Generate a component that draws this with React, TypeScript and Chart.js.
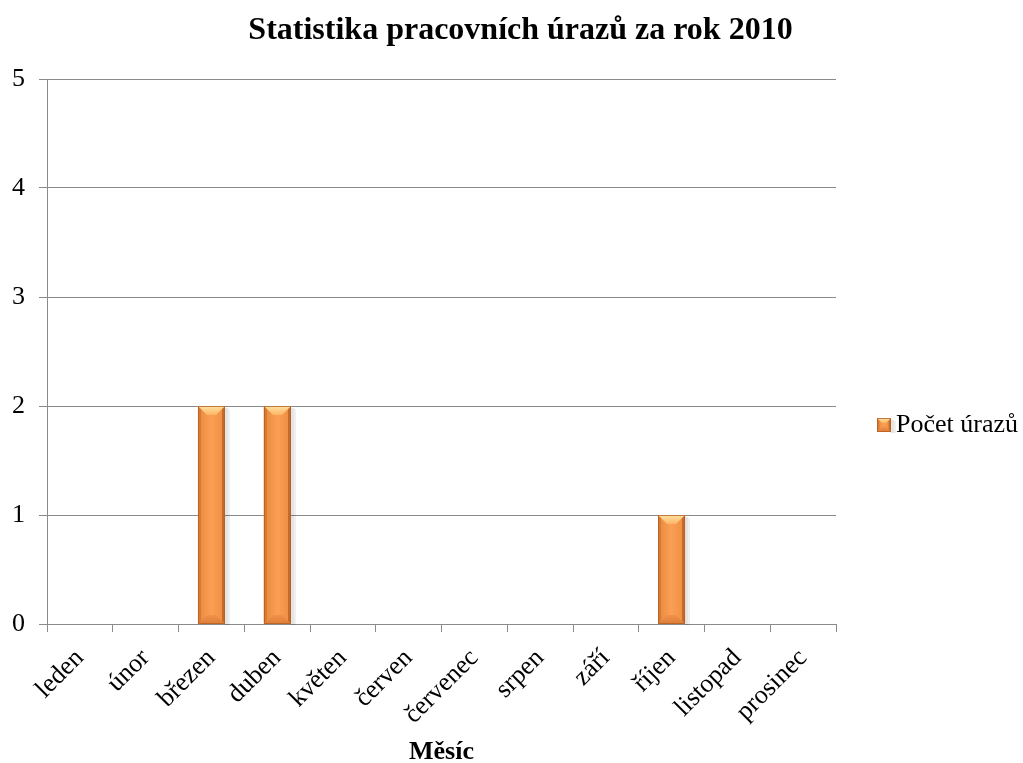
import React, { useEffect, useRef } from "react";
import { Chart, registerables } from "chart.js";

Chart.register(...registerables);

// Monthly accident counts for 2010
const months = [
  "leden", "únor", "březen", "duben", "květen", "červen",
  "červenec", "srpen", "září", "říjen", "listopad", "prosinec",
];
const injuries = [0, 0, 2, 2, 0, 0, 0, 0, 0, 1, 0, 0];
const yMin = 0;
const yMax = 5;
const yStep = 1;

const chartTitle = "Statistika pracovních úrazů za rok 2010";
const seriesLabel = "Počet úrazů";
const xAxisTitle = "Měsíc";

const serif = '"Liberation Serif", "Times New Roman", serif';
const gridColor = "#8a8a8a";

// Bevelled orange column (Excel-like look)
function drawBevelBar(ctx: CanvasRenderingContext2D, l: number, t: number, w: number, h: number) {
  const r = l + w;
  const b = t + h;
  const side = Math.max(1, Math.min(3, w / 6));
  const cap = Math.max(1, Math.min(9, w / 2 - 2, h / 2));
  const poly = (pts: number[][], fill: string | CanvasGradient) => {
    ctx.beginPath();
    ctx.moveTo(pts[0][0], pts[0][1]);
    for (let i = 1; i < pts.length; i++) ctx.lineTo(pts[i][0], pts[i][1]);
    ctx.closePath();
    ctx.fillStyle = fill;
    ctx.fill();
  };

  // soft shadow on the right
  ctx.fillStyle = "rgba(0,0,0,0.10)";
  ctx.fillRect(r, t + 2, 3, h - 1);
  ctx.fillStyle = "rgba(0,0,0,0.06)";
  ctx.fillRect(r + 3, t + 3, 2, h - 2);

  // body
  const g = ctx.createLinearGradient(l, 0, r, 0);
  g.addColorStop(0, "#E8893C");
  g.addColorStop(0.5, "#FB9F55");
  g.addColorStop(1, "#EC8C40");
  ctx.fillStyle = g;
  ctx.fillRect(l, t, w, h);

  // side bevels
  poly([[l, t], [l + side, t + side], [l + side, b - side], [l, b]], "#D67B35");
  poly([[r, t], [r - side, t + side], [r - side, b - side], [r, b]], "#C46A2B");

  // top highlight
  const tg = ctx.createLinearGradient(0, t, 0, t + cap);
  tg.addColorStop(0, "#FFE3A2");
  tg.addColorStop(1, "#FDB464");
  poly([[l, t], [r, t], [r - cap, t + cap], [l + cap, t + cap]], tg);

  // bottom bevel
  const bg = ctx.createLinearGradient(0, b - cap, 0, b);
  bg.addColorStop(0, "#F2904A");
  bg.addColorStop(1, "#DC7E38");
  poly([[l, b], [r, b], [r - cap, b - cap], [l + cap, b - cap]], bg);

  // outline
  ctx.strokeStyle = "rgba(180,95,35,0.8)";
  ctx.lineWidth = 1;
  ctx.strokeRect(l + 0.5, t + 0.5, w - 1, h - 1);
}

const bevelPlugin = {
  id: "bevelBars",
  afterDatasetsDraw(chart: any) {
    const ctx: CanvasRenderingContext2D = chart.ctx;
    ctx.save();
    chart.data.datasets.forEach((_ds: any, di: number) => {
      const meta = chart.getDatasetMeta(di);
      meta.data.forEach((el: any) => {
        const { x, y, base, width } = el.getProps(["x", "y", "base", "width"], true);
        const h = base - y;
        if (h <= 0) return;
        drawBevelBar(ctx, Math.round(x - width / 2), Math.round(y), Math.round(width), Math.round(h));
      });
    });
    ctx.restore();
  },
};

// Title and right-hand legend
const decorPlugin = {
  id: "decor",
  afterDraw(chart: any) {
    const ctx: CanvasRenderingContext2D = chart.ctx;
    const area = chart.chartArea;
    ctx.save();
    ctx.fillStyle = "#000";
    ctx.font = `bold 32px ${serif}`;
    ctx.textAlign = "center";
    ctx.textBaseline = "alphabetic";
    ctx.fillText(chartTitle, chart.width / 2 + 9, 39);

    const lx = area.right + 41;
    const ly = 425;
    drawBevelBar(ctx, lx, ly - 7, 14, 14);
    ctx.fillStyle = "#000";
    ctx.font = `26px ${serif}`;
    ctx.textAlign = "left";
    ctx.textBaseline = "middle";
    ctx.fillText(chart.data.datasets[0].label, lx + 19, ly);
    ctx.restore();
  },
};

export default function App() {
  const canvasRef = useRef<HTMLCanvasElement | null>(null);

  useEffect(() => {
    if (!canvasRef.current) return;
    const chart = new Chart(canvasRef.current, {
      type: "bar",
      data: {
        labels: months,
        datasets: [
          {
            label: seriesLabel,
            data: injuries,
            backgroundColor: "#F79646",
            borderWidth: 0,
            barPercentage: 0.41,
            categoryPercentage: 1,
          },
        ],
      },
      options: {
        animation: false,
        responsive: true,
        maintainAspectRatio: false,
        layout: { padding: { top: 79, right: 187, bottom: 0, left: 0 } },
        plugins: {
          legend: { display: false },
          title: { display: false },
          tooltip: { enabled: false },
        },
        scales: {
          x: {
            grid: {
              offset: true,
              drawOnChartArea: false,
              drawTicks: true,
              tickLength: 8,
              color: gridColor,
            },
            border: { display: true, color: gridColor },
            ticks: {
              color: "#000",
              font: { family: serif, size: 26 },
              minRotation: 45,
              maxRotation: 45,
              padding: 11,
              autoSkip: false,
            },
            title: {
              display: true,
              text: xAxisTitle,
              color: "#000",
              font: { family: serif, size: 26, weight: "bold", lineHeight: 0.8 },
              padding: { top: 0, bottom: 0 },
            },
            afterFit: (scale: any) => {
              scale.height = 139;
            },
          },
          y: {
            min: yMin,
            max: yMax,
            ticks: {
              stepSize: yStep,
              color: "#000",
              font: { family: serif, size: 26 },
              padding: 14,
            },
            grid: { color: gridColor, tickLength: 8 },
            border: { display: true, color: gridColor },
            afterFit: (scale: any) => {
              scale.width = 47;
            },
          },
        },
      },
      plugins: [bevelPlugin, decorPlugin],
    } as any);
    return () => chart.destroy();
  }, []);

  return (
    <div style={{ position: "absolute", left: 0, top: 0, width: 1023, height: 763, background: "#fff" }}>
      <canvas ref={canvasRef} />
    </div>
  );
}
